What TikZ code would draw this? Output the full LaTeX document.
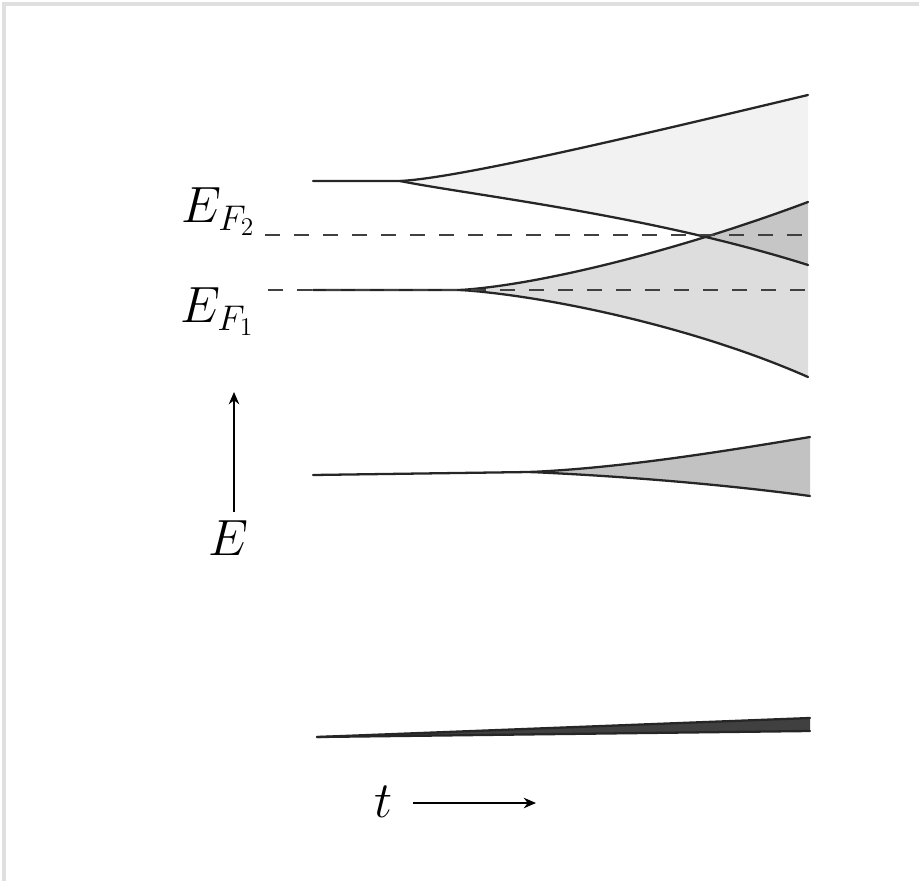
\documentclass[tikz,border=0pt]{standalone}
\usepackage{fix-cm}
\usetikzlibrary{arrows.meta}

\begin{document}
\begin{tikzpicture}[
    x=0.02cm, y=-0.02cm,
    font=\fontsize{29}{34}\selectfont,
    edge/.style={line width=1.3pt, line cap=round, black!85},
    level/.style={line width=1.4pt, dash pattern=on 8.5pt off 8pt, black!75},
    arr/.style={-{Stealth[length=7pt, width=6pt]}, line width=0.9pt},
    lbl/.style={anchor=base west, inner sep=0pt},
  ]
    \useasboundingbox (0,0) rectangle (919,881);
    \draw[gray!25, line width=2pt] (4,881) -- (4,4) -- (919,4);

    % band fills
    \fill[gray!10] (400,181) .. controls (460,178) and (640,135) .. (808,95)
        -- (808,265) .. controls (650,215) and (470,195) .. (400,181) -- cycle;
    \fill[gray!27] (460,290) .. controls (540,285) and (680,250) .. (808,202)
        -- (808,377) .. controls (690,325) and (540,295) .. (460,290) -- cycle;
    \begin{scope}
      \clip (400,181) .. controls (460,178) and (640,135) .. (808,95)
          -- (808,265) .. controls (650,215) and (470,195) .. (400,181) -- cycle;
      \fill[gray!45] (460,290) .. controls (540,285) and (680,250) .. (808,202)
          -- (808,377) .. controls (690,325) and (540,295) .. (460,290) -- cycle;
    \end{scope}
    \fill[gray!48] (530,472) .. controls (620,468) and (720,452) .. (810,437)
        -- (810,496) .. controls (720,484) and (620,476) .. (530,472) -- cycle;
    \fill[black!75] (317,737) -- (810,718) -- (810,731) -- cycle;

    % band edges
    \draw[edge] (313,181) -- (400,181) .. controls (460,178) and (640,135) .. (808,95);
    \draw[edge] (400,181) .. controls (470,195) and (650,215) .. (808,265);
    \draw[edge] (313,290) -- (460,290) .. controls (540,285) and (680,250) .. (808,202);
    \draw[edge] (460,290) .. controls (540,295) and (690,325) .. (808,377);
    \draw[edge] (313,475) -- (530,472) .. controls (620,468) and (720,452) .. (810,437);
    \draw[edge] (530,472) .. controls (620,476) and (720,484) .. (810,496);
    \draw[edge] (317,737) -- (810,718);
    \draw[edge] (317,737) -- (810,731);

    % Fermi levels
    \node[lbl] (ef2) at (181,223) {$E_{F_2}$};
    \node[lbl] (ef1) at (180,323) {$E_{F_1}$};
    \coordinate (f2a) at (265,235);
    \coordinate (f2b) at (808,235);
    \coordinate (f1a) at (268,290);
    \coordinate (f1b) at (808,290);
    \draw[level] (f2a) -- (f2b);
    \draw[level] (f1a) -- (f1b);

    % axes
    \node[lbl] (elab) at (208,555) {$E$};
    \coordinate (ebot) at (234,512);
    \coordinate (etop) at (234,392);
    \draw[arr] (ebot) -- (etop);
    \node[lbl] (tlab) at (374,817) {$t$};
    \coordinate (tl) at (413,803);
    \coordinate (tr) at (536,803);
    \draw[arr] (tl) -- (tr);
  \end{tikzpicture}
\end{document}
